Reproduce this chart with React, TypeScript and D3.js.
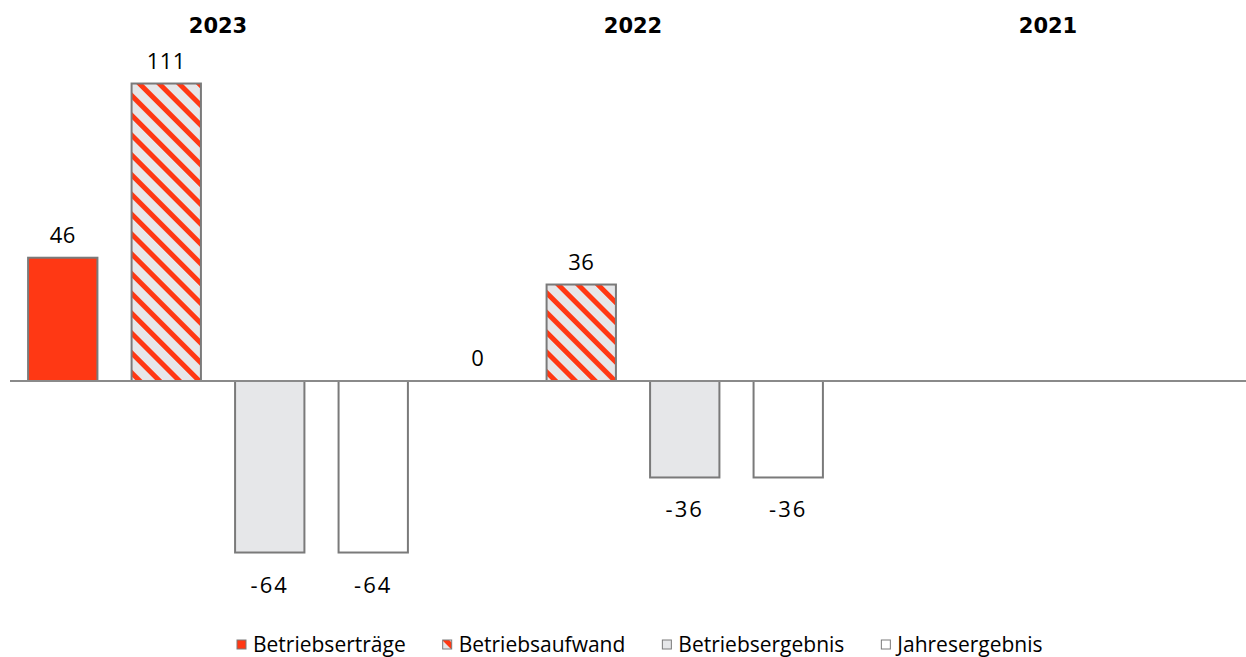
import React, { useEffect, useRef } from "react";
import * as d3 from "d3";

const years = ["2023", "2022", "2021"];
const seriesNames = ["Betriebserträge", "Betriebsaufwand", "Betriebsergebnis", "Jahresergebnis"];
const values2023: (number | null)[] = [46, 111, -64, -64];
const values2022: (number | null)[] = [0, 36, -36, -36];
const values2021: (number | null)[] = [null, null, null, null];
const valuesByYear = [values2023, values2022, values2021];

const W = 1246;
const H = 657;
const RED = "#ff3814";
const GREY = "#e6e7e9";
const STROKE = "#7a7a7a";
const seriesFill = [RED, "url(#hatch)", GREY, "#ffffff"];
const LABEL_FONT = "'Open Sans', 'Noto Sans', sans-serif";
const HEAD_FONT = "'DejaVu Sans', sans-serif";

export default function App() {
  const ref = useRef<SVGSVGElement | null>(null);

  useEffect(() => {
    const svg = d3.select(ref.current);
    svg.selectAll("*").remove();

    const defs = svg.append("defs");
    const pat = defs
      .append("pattern")
      .attr("id", "hatch")
      .attr("patternUnits", "userSpaceOnUse")
      .attr("width", 14)
      .attr("height", 14)
      .attr("patternTransform", "rotate(45)");
    pat.append("rect").attr("width", 14).attr("height", 14).attr("fill", GREY);
    pat.append("rect").attr("x", 0).attr("y", 0).attr("width", 14).attr("height", 5).attr("fill", RED);

    const x0 = d3.scaleBand<string>().domain(years).range([10.5, 1255.5]).padding(0);
    const x1 = d3
      .scaleBand<string>()
      .domain(seriesNames)
      .range([0, x0.bandwidth()])
      .paddingInner(0.33)
      .paddingOuter(0.17);
    const y = d3.scaleLinear().domain([-100, 100]).range([381 + 268, 381 - 268]);

    // headers
    svg
      .append("g")
      .selectAll("text")
      .data(years)
      .join("text")
      .attr("x", (d) => (x0(d) as number) + x0.bandwidth() / 2)
      .attr("y", 33)
      .attr("text-anchor", "middle")
      .attr("font-family", HEAD_FONT)
      .attr("font-weight", "bold")
      .attr("font-size", 21)
      .attr("fill", "#000")
      .text((d) => d);

    const flat: { year: string; s: string; i: number; v: number }[] = [];
    years.forEach((yr, yi) => {
      valuesByYear[yi].forEach((v, i) => {
        if (v !== null) flat.push({ year: yr, s: seriesNames[i], i, v });
      });
    });

    const bars = svg.append("g");
    bars
      .selectAll("rect")
      .data(flat.filter((d) => d.v !== 0))
      .join("rect")
      .attr("x", (d) => (x0(d.year) as number) + (x1(d.s) as number))
      .attr("width", x1.bandwidth())
      .attr("y", (d) => y(Math.max(0, d.v)))
      .attr("height", (d) => Math.abs(y(d.v) - y(0)))
      .attr("fill", (d) => seriesFill[d.i])
      .attr("stroke", STROKE)
      .attr("stroke-width", 2);

    // zero line
    svg
      .append("line")
      .attr("x1", 10)
      .attr("x2", W)
      .attr("y1", y(0))
      .attr("y2", y(0))
      .attr("stroke", "#8a8a8a")
      .attr("stroke-width", 2);

    // value labels
    svg
      .append("g")
      .selectAll("text")
      .data(flat)
      .join("text")
      .attr("x", (d) => (x0(d.year) as number) + (x1(d.s) as number) + x1.bandwidth() / 2)
      .attr("y", (d) => (d.v >= 0 ? y(d.v) - 15 : y(d.v) + 40))
      .attr("text-anchor", "middle")
      .attr("font-family", LABEL_FONT)
      .attr("font-size", 22)
      .attr("letter-spacing", (d) => (d.v < 0 ? 2 : 0.5))
      .attr("fill", "#000")
      .text((d) => String(d.v));

    // legend
    const lg = svg.append("g");
    const items = lg.selectAll("g").data(seriesNames).join("g");
    items
      .append("rect")
      .attr("x", 0)
      .attr("y", 640)
      .attr("width", 9)
      .attr("height", 9)
      .attr("fill", (_d, i) => seriesFill[i])
      .attr("stroke", STROKE)
      .attr("stroke-width", 1);
    const texts = items
      .append("text")
      .attr("x", 16)
      .attr("y", 652)
      .attr("font-family", LABEL_FONT)
      .attr("font-size", 21)
      .attr("fill", "#000")
      .text((d) => d);
    const widths: number[] = [];
    texts.each(function () {
      widths.push((this as SVGTextElement).getComputedTextLength());
    });
    const gap = 37;
    let cx = 0;
    const offsets: number[] = [];
    widths.forEach((w) => {
      offsets.push(cx);
      cx += 16 + w + gap;
    });
    const start = 237;
    items.attr("transform", (_d, i) => `translate(${start + offsets[i]},0)`);
  }, []);

  return (
    <div style={{ position: "absolute", left: 0, top: 0, width: W, height: H, background: "#fff" }}>
      <svg ref={ref} width={W} height={H} style={{ display: "block" }} />
    </div>
  );
}
